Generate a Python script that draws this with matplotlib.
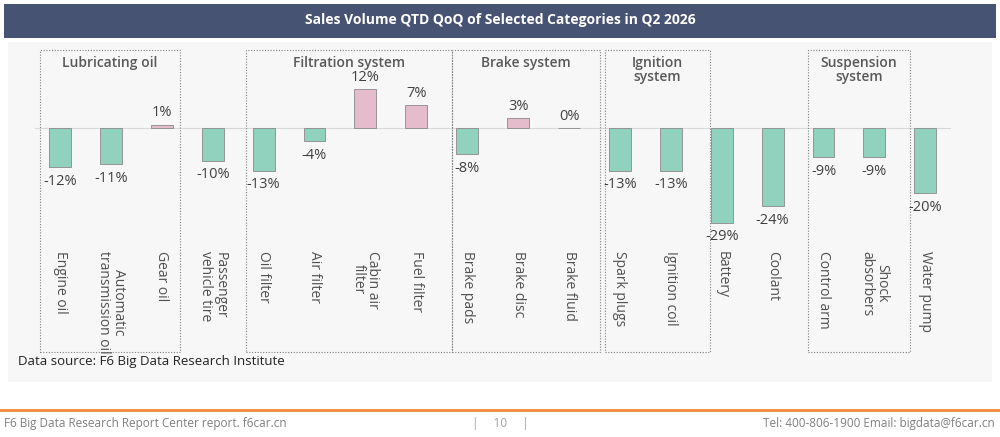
import matplotlib
matplotlib.use("Agg")
import matplotlib.pyplot as plt
from matplotlib.patches import Rectangle

categories = ["Engine oil", "Automatic\ntransmission oil", "Gear oil", "Passenger\nvehicle tire",
              "Oil filter", "Air filter", "Cabin air\nfilter", "Fuel filter",
              "Brake pads", "Brake disc", "Brake fluid", "Spark plugs", "Ignition coil",
              "Battery", "Coolant", "Control arm", "Shock\nabsorbers", "Water pump"]
values = [-12, -11, 1, -10, -13, -4, 12, 7, -8, 3, 0, -13, -13, -29, -24, -9, -9, -20]
groups = ["Lubricating oil", "Filtration system", "Brake system", "Ignition\nsystem", "Suspension\nsystem"]
group_spans = [(-0.39, 2.36), (3.65, 7.7), (7.7, 10.6), (10.7, 12.77), (14.7, 16.7)]

plt.rcParams['font.family'] = ['Open Sans', 'DejaVu Sans']
W, H = 1000, 437
fig = plt.figure(figsize=(10, 4.37), dpi=100)
fig.patch.set_facecolor("white")

def px(x, y):
    return x / W, 1 - y / H

fig.patches.append(Rectangle(px(8, 382), 984 / W, 340 / H, transform=fig.transFigure,
                             facecolor="#f7f7f7", edgecolor="none", zorder=-10))
fig.patches.append(Rectangle(px(4, 38), 992 / W, 34 / H, transform=fig.transFigure,
                             facecolor="#475372", edgecolor="none", zorder=-9))
fig.text(0.5, 1 - 20 / H, "Sales Volume QTD QoQ of Selected Categories in Q2 2026",
         color="white", ha="center", va="center", fontsize=10, fontweight="bold")

unit = 50.9
x0px = 60 - 0.5 * unit
x1px = 60 + 17.5 * unit
ytop, ybot = 45, 230
ppp = 3.27
ymax = (128 - ytop) / ppp
ymin = -(ybot - 128) / ppp
ax = fig.add_axes([x0px / W, 1 - ybot / H, (x1px - x0px) / W, (ybot - ytop) / H])
ax.set_zorder(1)
ax.patch.set_alpha(0)
ax.set_xlim(-0.5, 17.5)
ax.set_ylim(ymin, ymax)
ax.axis("off")
ax.axhline(0, color="#d9d9d9", lw=0.8, zorder=1)

xs = list(range(len(categories)))
colors = ["#91d2bf" if v < 0 else "#e5bccb" for v in values]
ax.bar(xs, values, width=0.43, color=colors, edgecolor="#8a8a8a", linewidth=0.6, zorder=2)
for x, v in zip(xs, values):
    if v >= 0:
        ax.text(x, v + 1.3, f"{v}%", ha="center", va="bottom", fontsize=10.5, color="#404040")
    else:
        ax.text(x, v - 2, f"{v}%", ha="center", va="top", fontsize=10.5, color="#404040")
    ax.text(x, -37.5, categories[x], rotation=270, ha="center", va="top", fontsize=10,
            color="#505050", linespacing=1.0, clip_on=False)

ybox_top = (128 - 50) / ppp
ybox_bot = -(352 - 128) / ppp
for name, (a, b) in zip(groups, group_spans):
    ax.add_patch(Rectangle((a, ybox_bot), b - a, ybox_top - ybox_bot, fill=False,
                           edgecolor="#808080", linestyle=(0, (1, 1.5)), lw=0.8, clip_on=False))
    ax.text((a + b) / 2, ybox_top - 1.8, name, ha="center", va="top", fontsize=10,
            color="#595959", fontweight="semibold", linespacing=1.0, clip_on=False)

fig.text(18 / W, 1 - 362 / H, "Data source: F6 Big Data Research Institute",
         ha="left", va="center", fontsize=9.5, color="#222222")

fig.add_artist(plt.Line2D([0, 1], [1 - 410 / H] * 2, transform=fig.transFigure,
                          color="#ee8a3a", lw=2))
fig.text(4 / W, 1 - 424 / H, "F6 Big Data Research Report Center report. f6car.cn",
         ha="left", va="center", fontsize=8.5, color="#808080")
fig.text(500 / W, 1 - 424 / H, "|     10     |", ha="center", va="center", fontsize=8.5, color="#a0a0a0")
fig.text(995 / W, 1 - 424 / H, "Tel: 400-806-1900 Email: bigdata@f6car.cn",
         ha="right", va="center", fontsize=8.5, color="#808080")

fig.savefig("out.png", dpi=100)
